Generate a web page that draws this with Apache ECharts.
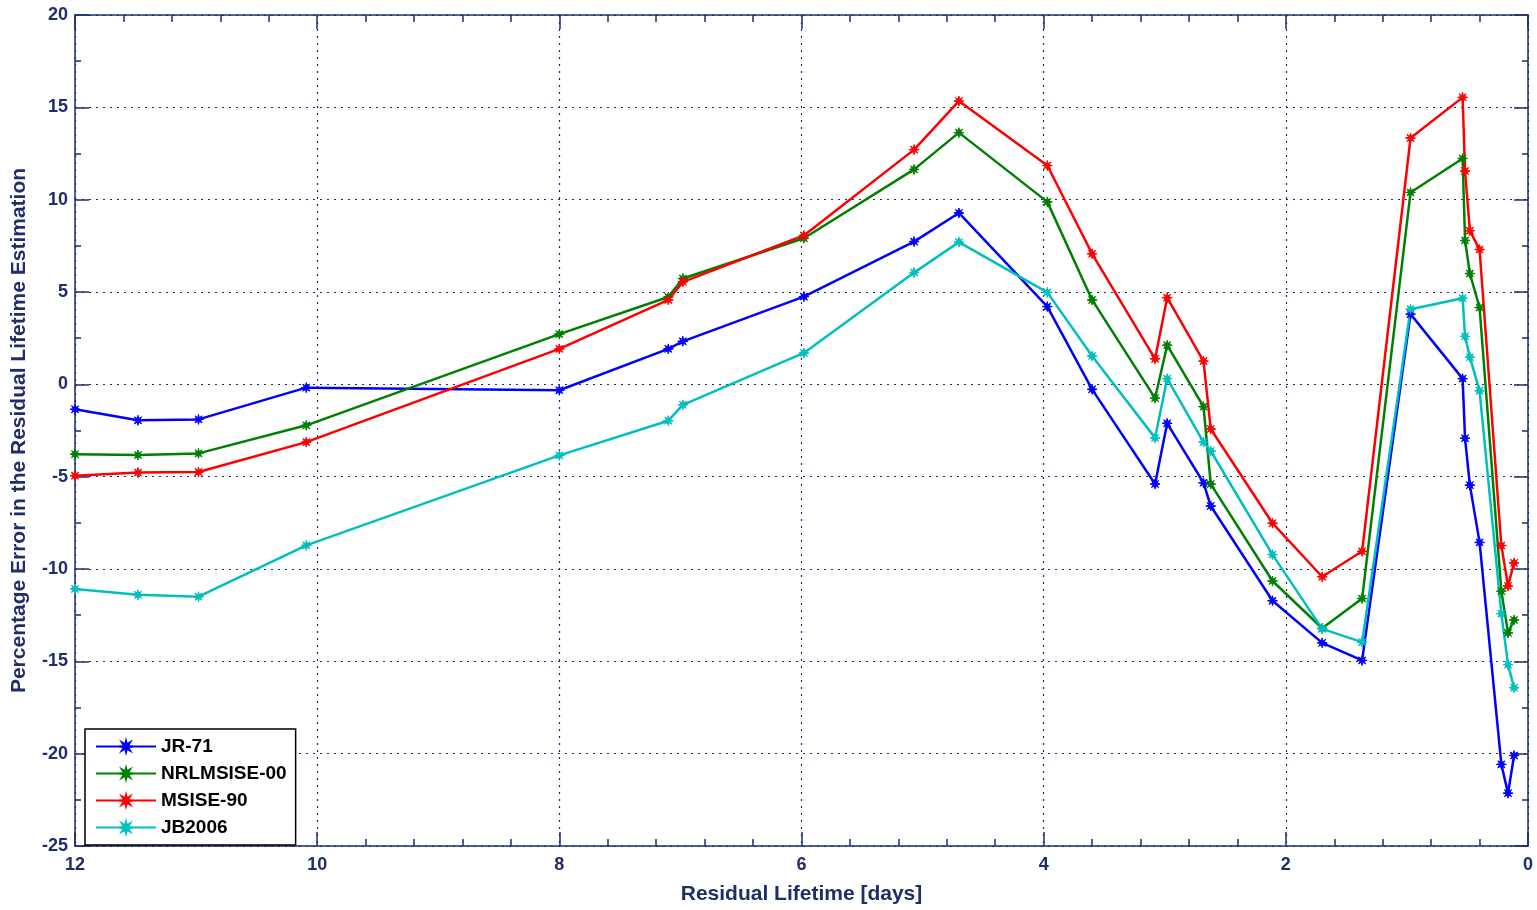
<!DOCTYPE html>
<html>
<head>
<meta charset="utf-8">
<script src="https://cdn.jsdelivr.net/npm/echarts@6/dist/echarts.min.js"></script>
<style>
html,body{margin:0;padding:0;background:#fff;}
#chart{width:1537px;height:910px;}
</style>
</head>
<body>
<div id="chart"></div>
<script>
// Residual lifetime [days]
const lifetime = [12.0, 11.48, 10.98, 10.09, 8.0, 7.10, 6.98, 5.98, 5.07, 4.70, 3.97, 3.60, 3.08, 2.98, 2.68, 2.62, 2.11, 1.70, 1.37, 0.97, 0.54, 0.52, 0.48, 0.40, 0.22, 0.165, 0.115];
const jr71 = [-1.35, -1.95, -1.9, -0.18, -0.32, 1.92, 2.33, 4.75, 7.73, 9.28, 4.21, -0.27, -5.4, -2.11, -5.33, -6.59, -11.72, -14.0, -14.95, 3.8, 0.31, -2.92, -5.46, -8.56, -20.58, -22.14, -20.1];
const nrlmsise00 = [-3.78, -3.83, -3.74, -2.22, 2.72, 4.73, 5.73, 7.91, 11.64, 13.63, 9.88, 4.57, -0.75, 2.12, -1.21, -5.4, -10.65, -13.21, -11.6, 10.39, 12.23, 7.79, 6.0, 4.16, -11.2, -13.46, -12.76];
const msise90 = [-4.95, -4.78, -4.75, -3.13, 1.92, 4.57, 5.55, 8.06, 12.71, 15.34, 11.85, 7.07, 1.38, 4.69, 1.26, -2.42, -7.52, -10.42, -9.04, 13.34, 15.54, 11.55, 8.32, 7.3, -8.73, -10.92, -9.67];
const jb2006 = [-11.08, -11.4, -11.5, -8.72, -3.85, -1.97, -1.11, 1.7, 6.05, 7.7, 4.98, 1.53, -2.9, 0.31, -3.13, -3.61, -9.22, -13.24, -13.96, 4.07, 4.66, 2.6, 1.47, -0.35, -12.42, -15.18, -16.43];
const seriesNames = ['JR-71', 'NRLMSISE-00', 'MSISE-90', 'JB2006'];
const seriesColors = ['#0000FF', '#008000', '#FF0000', '#00BFBF'];
const seriesValues = [jr71, nrlmsise00, msise90, jb2006];

const axisColor = '#1F2D6B';
const fontFam = '"Liberation Sans", Arial, sans-serif';
const star = 'path://M10,0 L3.7,1.53 L7.07,7.07 L1.53,3.7 L0,10 L-1.53,3.7 L-7.07,7.07 L-3.7,1.53 L-10,0 L-3.7,-1.53 L-7.07,-7.07 L-1.53,-3.7 L0,-10 L1.53,-3.7 L7.07,-7.07 L3.7,-1.53 Z';

const chart = echarts.init(document.getElementById('chart'), null, {renderer: 'canvas'});

const series = seriesNames.map((name, i) => ({
  name: name,
  type: 'line',
  data: lifetime.map((x, j) => [x, seriesValues[i][j]]),
  symbol: star,
  symbolSize: 10,
  showSymbol: true,
  lineStyle: {color: seriesColors[i], width: 2.5},
  itemStyle: {color: seriesColors[i], borderColor: seriesColors[i], borderWidth: 1},
  xAxisIndex: 0,
  yAxisIndex: 0,
  animation: false,
  clip: true
}));

const tickLabelStyle = {color: axisColor, fontFamily: fontFam, fontWeight: 'bold', fontSize: 18};

chart.setOption({
  backgroundColor: '#fff',
  animation: false,
  grid: {left: 75, right: 9, top: 15, bottom: 57, containLabel: false},
  legend: {
    left: 85, top: 729,
    orient: 'vertical',
    padding: [8, 9, 8, 10],
    itemGap: 8,
    itemWidth: 60,
    itemHeight: 14,
    borderColor: '#000',
    borderWidth: 1.5,
    backgroundColor: '#fff',
    textStyle: {color: '#000', fontFamily: fontFam, fontWeight: 'bold', fontSize: 19, lineHeight: 19, padding: [0, 0, 0, 0]},
    data: seriesNames
  },
  xAxis: [{
    type: 'value', min: 0, max: 12, interval: 2, inverse: true,
    name: 'Residual Lifetime [days]', nameLocation: 'middle', nameGap: 38,
    nameTextStyle: {color: axisColor, fontFamily: fontFam, fontWeight: 'bold', fontSize: 21},
    axisLine: {show: true, onZero: false, lineStyle: {color: axisColor, width: 1.5}},
    axisTick: {show: true, inside: true, length: 14, lineStyle: {color: axisColor, width: 1.5}},
    minorTick: {show: true, splitNumber: 5, length: 7, lineStyle: {color: axisColor, width: 1.5}},
    axisLabel: Object.assign({margin: 10}, tickLabelStyle),
    splitLine: {show: true, lineStyle: {color: axisColor, type: [2, 5], width: 1.2}}
  }, {
    type: 'value', min: 0, max: 12, interval: 2, inverse: true, position: 'top',
    axisLine: {show: true, onZero: false, lineStyle: {color: axisColor, width: 1.5}},
    axisTick: {show: true, inside: true, length: 14, lineStyle: {color: axisColor, width: 1.5}},
    minorTick: {show: true, splitNumber: 5, length: 7, lineStyle: {color: axisColor, width: 1.5}},
    axisLabel: {show: false},
    splitLine: {show: false}
  }],
  yAxis: [{
    type: 'value', min: -25, max: 20, interval: 5,
    name: 'Percentage Error in the Residual Lifetime Estimation', nameLocation: 'middle', nameGap: 45,
    nameTextStyle: {color: axisColor, fontFamily: fontFam, fontWeight: 'bold', fontSize: 21},
    axisLine: {show: true, onZero: false, lineStyle: {color: axisColor, width: 1.5}},
    axisTick: {show: true, inside: true, length: 14, lineStyle: {color: axisColor, width: 1.5}},
    minorTick: {show: true, splitNumber: 2, length: 6, lineStyle: {color: axisColor, width: 1.5}},
    axisLabel: Object.assign({margin: 7}, tickLabelStyle),
    splitLine: {show: true, lineStyle: {color: axisColor, type: [2, 5], width: 1.2}}
  }, {
    type: 'value', min: -25, max: 20, interval: 5, position: 'right',
    axisLine: {show: true, onZero: false, lineStyle: {color: axisColor, width: 1.5}},
    axisTick: {show: true, inside: true, length: 14, lineStyle: {color: axisColor, width: 1.5}},
    minorTick: {show: true, splitNumber: 2, length: 6, lineStyle: {color: axisColor, width: 1.5}},
    axisLabel: {show: false},
    splitLine: {show: false}
  }],
  series: series
});
</script>
</body>
</html>
